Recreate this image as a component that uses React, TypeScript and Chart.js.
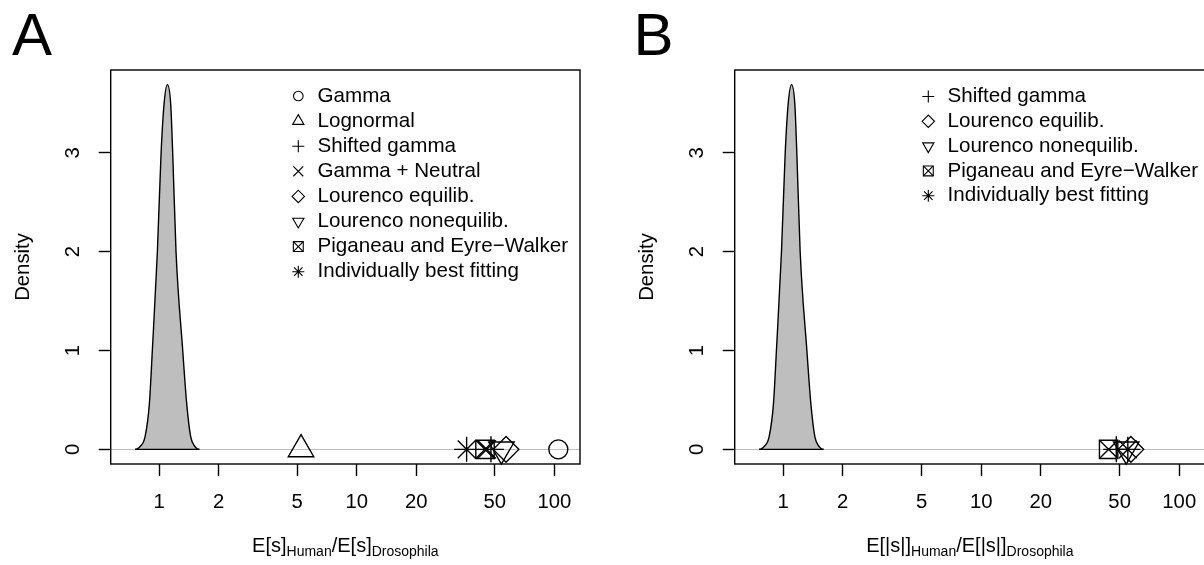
import React, { useEffect, useRef } from 'react';
import { Chart, registerables } from 'chart.js';
import { drawPoint } from 'chart.js/helpers';

Chart.register(...registerables);

const FONT = '"Liberation Sans", Arial, Helvetica, sans-serif';

// ---- axis ticks / limits ----
const xTickValues = [1, 2, 5, 10, 20, 50, 100];
const yTickValues = [0, 1, 2, 3];
const X_MIN = 0.5695;
const X_MAX = 134.9;
const Y_MIN = -0.148;
const Y_MAX = 3.838;

// ---- bootstrap density of the ratio ----
const densityX = [0.756, 0.775, 0.801, 0.85, 0.894, 0.925, 0.981, 1.024, 1.06, 1.102, 1.146, 1.173, 1.219, 1.318, 1.38, 1.446, 1.521, 1.56, 1.6];
const densityY = [0, 0.005, 0.027, 0.128, 0.465, 1.0, 2.0, 2.99, 3.49, 3.69, 3.49, 2.99, 2.0, 1.0, 0.465, 0.128, 0.027, 0.005, 0];

// ---- panel A: E[s] ratio estimates ----
const labelsA = [
  'Gamma',
  'Lognormal',
  'Shifted gamma',
  'Gamma + Neutral',
  'Lourenco equilib.',
  'Lourenco nonequilib.',
  'Piganeau and Eyre\u2212Walker',
  'Individually best fitting',
];
const estimatesA = [104.8, 5.23, 47.8, 45.5, 57, 54, 44.6, 36];

// ---- panel B: E[|s|] ratio estimates ----
const labelsB = [
  'Shifted gamma',
  'Lourenco equilib.',
  'Lourenco nonequilib.',
  'Piganeau and Eyre\u2212Walker',
  'Individually best fitting',
];
const estimatesB = [48.1, 57, 54, 44, 55];

// ---- axis title pieces (text, subscript?) ----
const xTitleA: [string, boolean][] = [['E[s]', false], ['Human', true], ['/E[s]', false], ['Drosophila', true]];
const xTitleB: [string, boolean][] = [['E[|s|]', false], ['Human', true], ['/E[|s|]', false], ['Drosophila', true]];

// style per series: [pointStyle, rotation, plotRadius, legendRadius]
const SYMBOLS: Record<string, [string, number, number, number][]> = {
  'Gamma': [['circle', 0, 9.5, 4.8]],
  'Lognormal': [['triangle', 0, 14.7, 6.5]],
  'Shifted gamma': [['cross', 0, 13, 6]],
  'Gamma + Neutral': [['crossRot', 0, 13, 7]],
  'Lourenco equilib.': [['rectRot', 0, 12.8, 6.2]],
  'Lourenco nonequilib.': [['triangle', 180, 14.7, 6.5]],
  'Piganeau and Eyre\u2212Walker': [['rect', 0, 13, 7], ['crossRot', 0, 13, 7]],
  'Individually best fitting': [['star', 0, 12.5, 6]],
};

const boxPlugin = {
  id: 'rBox',
  afterDraw(chart: any) {
    const { ctx, chartArea: a } = chart;
    ctx.save();
    ctx.strokeStyle = '#000';
    ctx.lineWidth = 1.4;
    ctx.strokeRect(a.left, a.top, a.right - a.left, a.bottom - a.top);
    ctx.restore();
  },
};

const legendPlugin = {
  id: 'rLegend',
  afterDraw(chart: any, _args: any, opts: any) {
    const ctx = chart.ctx;
    ctx.save();
    opts.items.forEach((label: string, i: number) => {
      const y = opts.y0 + i * opts.step;
      ctx.strokeStyle = '#000';
      ctx.fillStyle = 'rgba(0,0,0,0)';
      ctx.lineWidth = 1.1;
      SYMBOLS[label].forEach(([style, rot, , lr]) => {
        drawPoint(ctx, { pointStyle: style, rotation: rot, radius: lr, borderWidth: 1.1 } as any, opts.symX, y);
      });
      ctx.fillStyle = '#000';
      ctx.font = `20.6px ${FONT}`;
      ctx.textBaseline = 'middle';
      ctx.textAlign = 'left';
      ctx.fillText(label, opts.textX, y);
    });
    ctx.restore();
  },
};

const decorPlugin = {
  id: 'rDecor',
  afterDraw(chart: any, _args: any, opts: any) {
    const { ctx, chartArea: a } = chart;
    ctx.save();
    ctx.fillStyle = '#000';
    ctx.textBaseline = 'alphabetic';
    ctx.textAlign = 'left';
    // panel letter
    ctx.font = `60px ${FONT}`;
    ctx.fillText(opts.letter, opts.letterX, 55);
    // x axis title with subscripts
    const parts: [string, boolean][] = opts.xTitle;
    const widths = parts.map(([t, sub]) => {
      ctx.font = `${sub ? 14 : 20}px ${FONT}`;
      return ctx.measureText(t).width;
    });
    const total = widths.reduce((s, w) => s + w, 0);
    let x = (a.left + a.right) / 2 - total / 2;
    parts.forEach(([t, sub], i) => {
      ctx.font = `${sub ? 14 : 20}px ${FONT}`;
      ctx.fillText(t, x, sub ? 555.5 : 551.7);
      x += widths[i];
    });
    ctx.restore();
  },
};

function makeConfig(labels: string[], estimates: number[], legend: any, decor: any, padRight: number) {
  const markerSets: any[] = [];
  labels.forEach((label, i) => {
    SYMBOLS[label].forEach(([style, rot, pr]) => {
      markerSets.push({
        label,
        data: [{ x: estimates[i], y: 0 }],
        showLine: false,
        pointStyle: style,
        pointRotation: rot,
        pointRadius: pr,
        pointBorderColor: '#000',
        pointBackgroundColor: 'rgba(0,0,0,0)',
        pointBorderWidth: 1.4,
        clip: false,
        order: 0,
      });
    });
  });
  const datasets = [
    {
      label: 'density',
      data: densityX.map((x, i) => ({ x, y: densityY[i] })),
      showLine: true,
      fill: 'origin',
      backgroundColor: '#bebebe',
      borderColor: '#000',
      borderWidth: 1.4,
      pointRadius: 0,
      cubicInterpolationMode: 'monotone',
      order: 10,
    },
    {
      label: 'density base',
      data: [
        { x: densityX[0], y: 0 },
        { x: densityX[densityX.length - 1], y: 0 },
      ],
      showLine: true,
      fill: false,
      borderColor: '#000',
      borderWidth: 1.4,
      pointRadius: 0,
      order: 9,
    },
    ...markerSets,
  ];
  return {
    type: 'scatter',
    data: { datasets },
    options: {
      animation: false,
      responsive: false,
      devicePixelRatio: 1,
      events: [],
      layout: { autoPadding: false, padding: { left: 0, top: 70, right: padRight, bottom: 0 } },
      plugins: {
        legend: { display: false },
        tooltip: { enabled: false },
        rLegend: legend,
        rDecor: decor,
      },
      scales: {
        x: {
          type: 'logarithmic',
          min: X_MIN,
          max: X_MAX,
          afterBuildTicks: (s: any) => {
            s.ticks = xTickValues.map((v) => ({ value: v }));
          },
          afterFit: (s: any) => {
            s.height = 101;
            s.paddingLeft = 0;
            s.paddingRight = 0;
          },
          ticks: {
            autoSkip: false,
            maxRotation: 0,
            minRotation: 0,
            padding: 14,
            color: '#000',
            font: { family: FONT, size: 20.3 },
            callback: (v: any) => String(v),
          },
          grid: {
            drawOnChartArea: false,
            drawTicks: true,
            tickLength: 12,
            tickWidth: 1.4,
            tickColor: '#000',
            color: '#000',
          },
          border: { display: false },
        },
        y: {
          type: 'linear',
          min: Y_MIN,
          max: Y_MAX,
          afterBuildTicks: (s: any) => {
            s.ticks = yTickValues.map((v) => ({ value: v }));
          },
          afterFit: (s: any) => {
            s.width = 110.7;
            s.paddingTop = 0;
            s.paddingBottom = 0;
          },
          ticks: {
            minRotation: 90,
            maxRotation: 90,
            crossAlign: 'center',
            padding: 19.6,
            color: '#000',
            font: { family: FONT, size: 20.3 },
            callback: (v: any) => String(v),
          },
          grid: {
            color: (c: any) => (c.tick && c.tick.value === 0 ? '#bebebe' : 'rgba(0,0,0,0)'),
            lineWidth: 1,
            drawTicks: true,
            tickLength: 12,
            tickWidth: 1.4,
            tickColor: '#000',
          },
          border: { display: false },
          title: {
            display: true,
            text: 'Density',
            color: '#000',
            font: { family: FONT, size: 20.3 },
            padding: { top: 11, bottom: 0 },
          },
        },
      },
    },
    plugins: [boxPlugin, legendPlugin, decorPlugin],
  } as any;
}

function Panel({ config, left, width }: { config: () => any; left: number; width: number }) {
  const ref = useRef<HTMLCanvasElement>(null);
  useEffect(() => {
    const chart = new Chart(ref.current as HTMLCanvasElement, config());
    return () => chart.destroy();
  }, []);
  return (
    <canvas
      ref={ref}
      width={width}
      height={565}
      style={{ position: 'absolute', left, top: 0, width, height: 565, display: 'block' }}
    />
  );
}

export default function App() {
  return (
    <div
      style={{
        position: 'fixed',
        left: 0,
        top: 0,
        width: 1204,
        height: 565,
        overflow: 'hidden',
        background: '#fff',
      }}
    >
      <Panel
        left={0}
        width={624}
        config={() =>
          makeConfig(
            labelsA,
            estimatesA,
            { items: labelsA, symX: 298.3, textX: 317.5, y0: 96, step: 25.1 },
            { letter: 'A', letterX: 12, xTitle: xTitleA },
            44
          )
        }
      />
      <Panel
        left={624}
        width={581}
        config={() =>
          makeConfig(
            labelsB,
            estimatesB,
            { items: labelsB, symX: 304.3, textX: 323.5, y0: 96.5, step: 24.8 },
            { letter: 'B', letterX: 9.6, xTitle: xTitleB },
            0
          )
        }
      />
    </div>
  );
}
